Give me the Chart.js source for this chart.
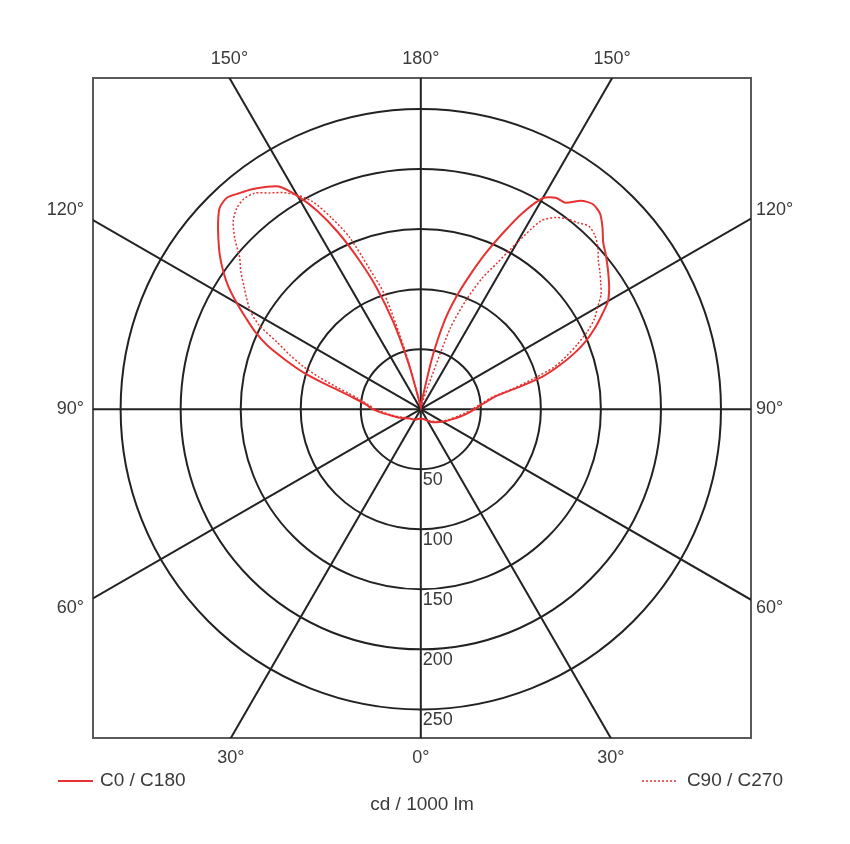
<!DOCTYPE html>
<html>
<head>
<meta charset="utf-8">
<script src="https://cdn.jsdelivr.net/npm/chart.js@4.4.0/dist/chart.umd.min.js"></script>
<style>
  html, body { margin: 0; padding: 0; background: #fff; }
  #wrap { width: 850px; height: 844px; }
</style>
</head>
<body>
<div id="wrap"><canvas id="polar"></canvas></div>
<script>
// gamma angles in degrees from nadir (0 = straight down, 180 = straight up)
const gammas = [0, 10, 20, 30, 40, 50, 60, 70, 80, 85, 90, 95, 100,
  102.5, 105, 107.5, 110, 112.5, 115, 117.5, 120, 122.5, 125, 127.5, 130,
  132.5, 135, 137.5, 140, 142.5, 145, 147.5, 150, 152.5, 155, 157.5, 160,
  162.5, 165, 167.5, 170, 175, 180];

// luminous intensity, cd / 1000 lm
const c0   = [8, 8, 9, 11, 14, 17, 21, 26, 34, 39, 45, 52, 64,
  82, 105, 121, 136, 149, 160, 170, 180, 186, 191, 196, 201,
  206, 214, 221, 223, 219, 210, 209, 203, 185, 162, 140, 118,
  98, 76, 45, 14, 5, 2];
const c180 = [8, 8, 9, 10, 11, 12, 15, 20, 27, 33, 40, 46, 58,
  68, 84, 103, 120, 138, 152, 164, 177, 190, 201, 211, 220,
  229, 237, 239, 235, 231, 226, 220, 205, 186, 162, 135, 108,
  76, 40, 12, 5, 3, 2];
const c90  = [8, 8, 9, 11, 13, 16, 20, 25, 32, 37, 43, 50, 62,
  78, 96, 116, 129, 141, 153, 163, 170, 178, 183, 188, 193,
  200, 205, 207, 203, 200, 195, 186, 160, 137, 120, 98, 72,
  20, 8, 5, 4, 2, 1];
const c270 = [8, 8, 9, 10, 11, 12, 14, 19, 26, 31, 38, 44, 54,
  62, 74, 89, 104, 118, 132, 152, 164, 172, 180, 189, 197,
  210, 221, 227, 229, 227, 220, 214, 206, 195, 176, 155, 124,
  100, 50, 10, 5, 3, 2];

const ringValues = [50, 100, 150, 200, 250];
const spokeAngles = [0, 30, 60, 90, 120, 150, 180, 210, 240, 270, 300, 330];
const bottomGammas = [-30, 0, 30];
const topGammas = [-150, 180, 150];
const sideGammas = [60, 90, 120];

const xMin = -273, xMax = 275, yMin = -274, yMax = 276;
const red = '#e63232';
const ink = '#3a3a3a';
const fam = '"Liberation Sans", Arial, sans-serif';

Chart.defaults.font.family = fam;
Chart.defaults.font.size = 18;
Chart.defaults.color = ink;

function toXY(I, g, side) {
  const r = g * Math.PI / 180;
  return { x: side * I * Math.sin(r), y: -I * Math.cos(r) };
}

// right half plane 0..180 then left half plane back 180..0
function loop(right, left) {
  const pts = gammas.map((g, i) => toXY(right[i], g, 1));
  for (let i = gammas.length - 1; i >= 0; i--) pts.push(toXY(left[i], gammas[i], -1));
  return pts;
}

const rad = g => g * Math.PI / 180;
const bottomTicks = bottomGammas.map(g => -yMin * Math.tan(rad(g)));
const topTicks = topGammas.map(g => -yMax * Math.tan(rad(g)));
const sideTicks = sideGammas.map(g => {
  const v = -xMax / Math.tan(rad(g));
  return Math.abs(v) < 1 ? 0 : v + Math.sign(v) * 7;
});

function edgeAxis(position, ticks, gs, size, pad) {
  const horiz = position === 'top' || position === 'bottom';
  return {
    type: 'linear',
    position: position,
    min: horiz ? xMin : yMin,
    max: horiz ? xMax : yMax,
    grid: { display: false, drawTicks: false },
    border: { display: true, color: '#5a5a5a', width: 2 },
    ticks: {
      autoSkip: false, maxRotation: 0, minRotation: 0,
      padding: pad,
      color: ink,
      callback: (v, i) => Math.abs(gs[i]) + '°'
    },
    afterBuildTicks: s => { s.ticks = ticks.map(v => ({ value: v })); },
    afterFit: s => { if (horiz) s.height = size; else s.width = size; }
  };
}

const gridPlugin = {
  id: 'polarGrid',
  beforeDatasetsDraw(chart) {
    const { ctx, chartArea: a, scales: { x, y } } = chart;
    const cx = x.getPixelForValue(0), cy = y.getPixelForValue(0);
    ctx.save();
    ctx.beginPath();
    ctx.rect(a.left, a.top, a.right - a.left, a.bottom - a.top);
    ctx.clip();
    ctx.strokeStyle = '#222';
    ctx.lineWidth = 2;
    ringValues.forEach(v => {
      const r = x.getPixelForValue(v) - cx;
      ctx.beginPath();
      ctx.arc(cx, cy, r, 0, Math.PI * 2);
      ctx.stroke();
    });
    spokeAngles.forEach(g => {
      const p = toXY(1000, g, 1);
      ctx.beginPath();
      ctx.moveTo(cx, cy);
      ctx.lineTo(x.getPixelForValue(p.x), y.getPixelForValue(p.y));
      ctx.stroke();
    });
    ctx.fillStyle = ink;
    ctx.font = '18px ' + fam;
    ctx.textAlign = 'left';
    ctx.textBaseline = 'top';
    ringValues.forEach(v => {
      ctx.fillText(String(v), cx + 2, y.getPixelForValue(-v) + 2);
    });
    ctx.restore();
  }
};

const legendPlugin = {
  id: 'edgeLegend',
  afterDraw(chart) {
    const { ctx } = chart;
    const ds = chart.data.datasets;
    const yy = 781;
    ctx.save();
    ctx.font = '19px ' + fam;
    ctx.fillStyle = ink;
    ctx.textBaseline = 'middle';
    // left item
    ctx.strokeStyle = ds[0].borderColor;
    ctx.lineWidth = ds[0].borderWidth;
    ctx.beginPath(); ctx.moveTo(58, yy); ctx.lineTo(93, yy); ctx.stroke();
    ctx.textAlign = 'left';
    ctx.fillText(ds[0].label, 100, yy);
    // right item
    ctx.strokeStyle = ds[1].borderColor;
    ctx.lineWidth = ds[1].borderWidth;
    ctx.setLineDash(ds[1].borderDash);
    ctx.beginPath(); ctx.moveTo(642, yy); ctx.lineTo(678, yy); ctx.stroke();
    ctx.setLineDash([]);
    ctx.textAlign = 'right';
    ctx.fillText(ds[1].label, 783, yy);
    ctx.restore();
  }
};

const bottomAxis = edgeAxis('bottom', bottomTicks, bottomGammas, 106, 9);
bottomAxis.title = {
  display: true, text: 'cd / 1000 lm', color: ink,
  font: { size: 19 }, padding: { top: 0, bottom: 28 }
};

new Chart(document.getElementById('polar'), {
  type: 'scatter',
  data: {
    datasets: [{
      label: 'C0 / C180',
      data: loop(c0, c180),
      showLine: true,
      borderColor: red,
      borderWidth: 2,
      pointRadius: 0,
      tension: 0.25,
      fill: false
    }, {
      label: 'C90 / C270',
      data: loop(c90, c270),
      showLine: true,
      borderColor: red,
      borderWidth: 1.5,
      borderDash: [2, 2],
      pointRadius: 0,
      tension: 0.25,
      fill: false
    }]
  },
  options: {
    responsive: true,
    maintainAspectRatio: false,
    animation: false,
    layout: { padding: 0 },
    plugins: { legend: { display: false }, tooltip: { enabled: false } },
    scales: {
      x: bottomAxis,
      x2: edgeAxis('top', topTicks, topGammas, 78, 8),
      y: edgeAxis('left', sideTicks, sideGammas, 93, 9),
      y2: edgeAxis('right', sideTicks, sideGammas, 99, 5)
    }
  },
  plugins: [gridPlugin, legendPlugin]
});
</script>
</body>
</html>
